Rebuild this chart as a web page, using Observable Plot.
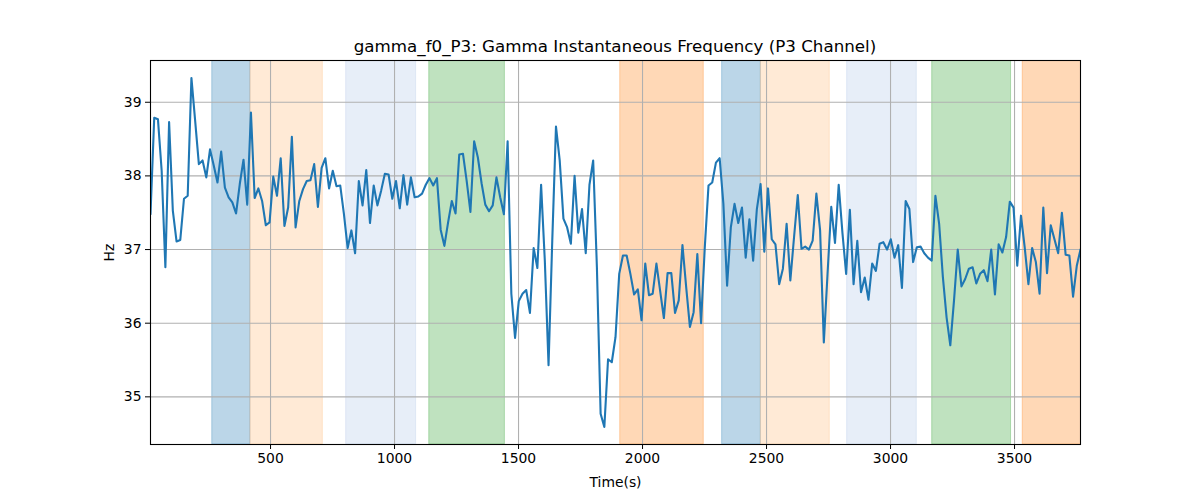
<!DOCTYPE html>
<html><head><meta charset="utf-8">
<script src="https://cdn.jsdelivr.net/npm/d3@7"></script>
<script src="https://cdn.jsdelivr.net/npm/@observablehq/plot@0.6"></script>
<style>
body{margin:0;background:#fff;font-family:"DejaVu Sans",sans-serif;}
#title{box-sizing:border-box;width:1230px;height:56px;padding-top:36px;line-height:20px;font-size:16.7px;text-align:center;color:#000;}
#chart svg{display:block;}
</style></head><body>
<div id="title">gamma_f0_P3: Gamma Instantaneous Frequency (P3 Channel)</div>
<div id="chart"></div>
<script>
// sampling grid (s)
const startTime = 16;
const stepTime = 15;
// Gamma instantaneous frequency (Hz)
const hz = [
37.48,38.79,38.77,38.07,36.76,38.73,37.53,37.11,37.13,37.69,37.73,39.33,38.75,38.16,38.21,37.98,38.36,38.14,37.91,38.33,37.84,37.71,37.64,37.49,37.89,38.22,37.61,38.86,37.70,37.83,37.66,37.33,37.37,37.99,37.73,38.24,
37.32,37.57,38.53,37.30,37.66,37.82,37.93,37.94,38.16,37.58,38.11,38.24,37.83,38.07,37.86,37.87,37.48,37.02,37.26,36.95,37.93,37.60,38.08,37.36,37.87,37.60,37.80,38.03,38.02,37.69,37.93,37.56,38.01,37.61,37.98,
37.71,37.72,37.76,37.88,37.97,37.87,37.97,37.27,37.05,37.37,37.66,37.49,38.29,38.30,37.93,37.51,38.47,38.25,37.90,37.61,37.52,37.60,37.98,37.71,37.48,38.47,36.40,35.80,36.30,36.40,36.45,36.14,37.02,36.75,37.88,
36.85,35.43,37.12,38.67,38.21,37.42,37.30,37.08,38.00,37.23,37.55,36.95,37.88,38.21,36.76,34.77,34.59,35.51,35.47,35.81,36.67,36.92,36.92,36.67,36.39,36.46,36.04,36.81,36.38,36.40,36.81,36.44,36.07,36.68,36.68,
36.14,36.31,37.06,36.49,35.95,36.15,36.94,36.00,37.03,37.87,37.91,38.18,38.24,37.62,36.51,37.30,37.62,37.36,37.57,36.89,37.41,36.85,37.55,37.89,36.97,37.83,37.14,37.07,36.53,36.74,37.35,36.58,37.17,37.74,37.01,
37.04,37.00,37.12,37.76,37.26,35.74,36.67,37.58,37.09,37.88,37.23,36.67,37.54,36.53,37.12,36.42,36.62,36.32,36.81,36.71,37.08,37.10,37.00,37.14,36.89,37.06,36.48,37.66,37.55,36.83,37.03,37.04,36.95,36.89,36.85,
37.73,37.35,36.63,36.08,35.70,36.31,37.00,36.50,36.60,36.74,36.76,36.54,36.67,36.72,36.57,37.00,36.39,37.07,36.96,37.17,37.65,37.57,36.78,37.46,37.03,36.53,37.02,36.83,36.40,37.57,36.68,37.33,37.14,36.95,37.50,36.93,36.92,36.36,36.78,37.00
];
const times = hz.map((_, i) => startTime + i * stepTime);

// shaded intervals
const bandStart = [265, 419, 805, 1140, 1910, 2321, 2477, 2825, 3168, 3533];
const bandEnd   = [419, 711, 1087, 1445, 2247, 2477, 2755, 3106, 3486, 3800];
const bandKind  = ["A", "B", "C", "D", "E", "A", "B", "C", "D", "E"];
const kindColor = {A: "#1f77b4", B: "#ffbb78", C: "#aec7e8", D: "#2ca02c", E: "#ff7f0e"};

const xTicks = [500, 1000, 1500, 2000, 2500, 3000, 3500];
const yTicks = [35, 36, 37, 38, 39];

const series = hz.map((v, i) => ({t: times[i], hz: v}));
const bands = bandStart.map((s, i) => ({x1: s, x2: bandEnd[i], kind: bandKind[i]}));

const xDomain = [times[0], times[times.length - 1]];
const yMin = d3.min(hz), yMax = d3.max(hz), pad = (yMax - yMin) * 0.05;

const chart = Plot.plot({
  width: 1200,
  height: 444,
  marginLeft: 150,
  marginRight: 120,
  marginTop: 4,
  marginBottom: 56,
  style: {fontFamily: "DejaVu Sans, sans-serif", fontSize: "13.9px", color: "#000", background: "#fff"},
  x: {domain: xDomain, ticks: xTicks, tickFormat: d3.format("d"), tickSize: 5, tickPadding: 4, label: "Time(s)", labelAnchor: "center", labelArrow: "none", labelOffset: 42},
  y: {domain: [yMin - pad, yMax + pad], ticks: yTicks, tickFormat: d3.format("d"), tickSize: 5, tickPadding: 4, label: "Hz", labelAnchor: "center", labelArrow: "none", labelOffset: 46},
  marks: [
    Plot.rect(bands, {x1: "x1", x2: "x2", fill: d => kindColor[d.kind], fillOpacity: 0.3, stroke: d => kindColor[d.kind], strokeOpacity: 0.3, strokeWidth: 1, clip: true}),
    Plot.gridX(xTicks, {stroke: "#b0b0b0", strokeOpacity: 1, strokeWidth: 1.1}),
    Plot.gridY(yTicks, {stroke: "#b0b0b0", strokeOpacity: 1, strokeWidth: 1.1}),
    Plot.lineY(series, {x: "t", y: "hz", stroke: "#1f77b4", strokeWidth: 2.1, clip: true}),
    Plot.frame({stroke: "#000", strokeWidth: 1.1})
  ]
});
document.getElementById("chart").appendChild(chart);
</script>
</body></html>
